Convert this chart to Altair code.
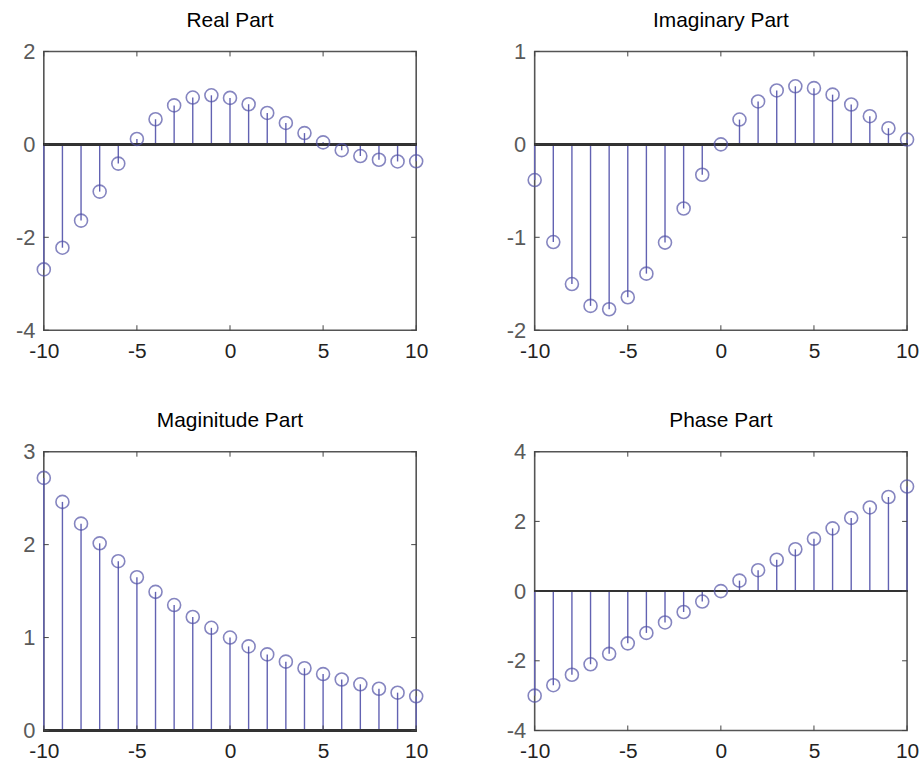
import altair as alt
import pandas as pd

# ---- data ----
n = list(range(-10, 11))
real_part = [-2.691, -2.224, -1.641, -1.017, -0.414, 0.117, 0.541, 0.839, 1.008, 1.056, 1.000,
             0.864, 0.676, 0.461, 0.243, 0.043, -0.125, -0.251, -0.331, -0.368, -0.364]
imag_part = [-0.384, -1.051, -1.503, -1.738, -1.774, -1.645, -1.391, -1.057, -0.690, -0.327, 0.000,
             0.267, 0.462, 0.580, 0.625, 0.605, 0.535, 0.429, 0.303, 0.174, 0.052]
magnitude = [2.718, 2.460, 2.226, 2.014, 1.822, 1.649, 1.492, 1.350, 1.221, 1.105, 1.000,
             0.905, 0.819, 0.741, 0.670, 0.607, 0.549, 0.497, 0.449, 0.407, 0.368]
phase = [-3.0, -2.7, -2.4, -2.1, -1.8, -1.5, -1.2, -0.9, -0.6, -0.3, 0.0,
         0.3, 0.6, 0.9, 1.2, 1.5, 1.8, 2.1, 2.4, 2.7, 3.0]

titles = ["Real Part", "Imaginary Part", "Maginitude Part", "Phase Part"]
y_domains = [[-4, 2], [-2, 1], [0, 3], [-4, 4]]
y_ticks = [[-4, -2, 0, 2], [-2, -1, 0, 1], [0, 1, 2, 3], [-4, -2, 0, 2, 4]]
x_ticks = [-10, -5, 0, 5, 10]

W, H = 374, 280
STEM = "#6262b2"
CIRC = "#5252a6"
TICK = 5


def panel(title, values, ydom, yticks):
    df = pd.DataFrame({"n": n, "v": values, "z": [0] * len(n)})
    xs = alt.Scale(domain=[-10, 10], nice=False, zero=False)
    ys = alt.Scale(domain=ydom, nice=False, zero=False)
    x = alt.X("n:Q", scale=xs, axis=alt.Axis(values=x_ticks, title=None, ticks=False, domain=False,
                                             grid=False, labelFontSize=21, labelColor="#222",
                                             labelPadding=10, labelFlush=False,
                                             labelExpr="'' + datum.value",
                                             labelFont="Liberation Sans"))
    y = alt.Y("v:Q", scale=ys, axis=alt.Axis(values=yticks, title=None, ticks=False, domain=False,
                                             grid=False, labelFontSize=22, labelColor="#5a5a5a",
                                             labelPadding=9, labelFlush=False,
                                             labelExpr="'' + datum.value",
                                             labelFont="Liberation Sans"))
    stems = alt.Chart(df).mark_rule(color=STEM, strokeWidth=1.4).encode(x=x, y=y, y2="z:Q")
    base = alt.Chart(df).mark_rule(color="#333", strokeWidth=1.8).encode(y=alt.datum(0))
    pts = alt.Chart(df).mark_point(shape="circle", filled=False, size=170, strokeWidth=1.6,
                                   color=CIRC).encode(x=x, y=y)

    xt = pd.DataFrame({"n": x_ticks})
    yt = pd.DataFrame({"v": yticks})
    tick_top = alt.Chart(xt).mark_rule(color="#444").encode(x=x, y=alt.value(0), y2=alt.value(TICK))
    tick_bot = alt.Chart(xt).mark_rule(color="#444").encode(x=x, y=alt.value(H), y2=alt.value(H - TICK))
    tick_l = alt.Chart(yt).mark_rule(color="#444").encode(y=y, x=alt.value(0), x2=alt.value(TICK))
    tick_r = alt.Chart(yt).mark_rule(color="#444").encode(y=y, x=alt.value(W), x2=alt.value(W - TICK))

    return alt.layer(stems, base, pts, tick_top, tick_bot, tick_l, tick_r).properties(
        width=W, height=H,
        title=alt.TitleParams(title, fontSize=21, font="Liberation Sans", fontWeight="normal",
                              color="#000", offset=10, anchor="middle", frame="group"))


panels = [panel(t, v, d, k) for t, v, d, k in
          zip(titles, [real_part, imag_part, magnitude, phase], y_domains, y_ticks)]

top = alt.hconcat(panels[0], panels[1], spacing=76)
bottom = alt.hconcat(panels[2], panels[3], spacing=76)
chart = alt.vconcat(top, bottom, spacing=47).properties(
    padding={"left": 14, "top": 7, "right": 2, "bottom": 2},
    background="white",
).configure_view(stroke="#555", strokeWidth=1.6)

chart.save("out.html", embed_options={"renderer": "svg", "actions": False})
